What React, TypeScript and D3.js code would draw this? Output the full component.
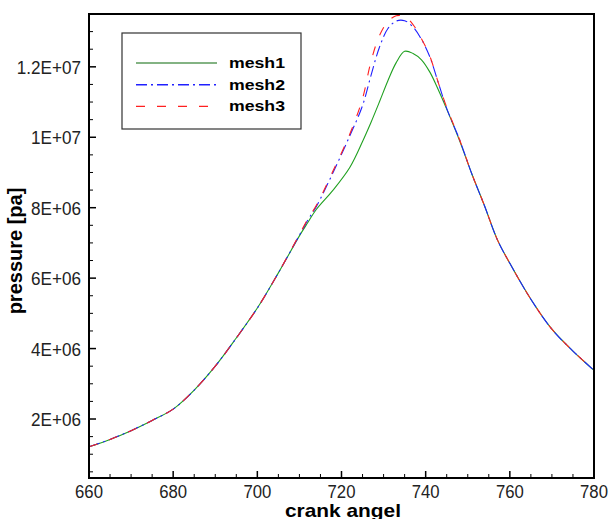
import React from "react";
import * as d3 from "d3";

const angles = [660, 665, 670, 675, 680, 685, 690, 695, 700, 705, 710, 712, 714, 718, 722, 725, 727, 729, 731, 733, 735, 737, 739, 741, 743, 745, 748, 751, 754, 757, 760, 765, 770, 775, 780];
const mesh1 = [1.21, 1.42, 1.67, 1.96, 2.28, 2.82, 3.5, 4.3, 5.15, 6.15, 7.2, 7.58, 7.95, 8.5, 9.15, 9.88, 10.42, 11.0, 11.6, 12.12, 12.44, 12.38, 12.2, 11.85, 11.35, 10.8, 9.92, 8.95, 8.05, 7.1, 6.42, 5.4, 4.55, 3.93, 3.38];
const mesh2 = [1.21, 1.42, 1.67, 1.96, 2.28, 2.82, 3.5, 4.3, 5.15, 6.15, 7.22, 7.65, 8.03, 9.0, 10.05, 10.9, 11.75, 12.55, 13.08, 13.3, 13.31, 13.13, 12.78, 12.28, 11.55, 10.82, 9.95, 8.95, 8.05, 7.1, 6.42, 5.4, 4.55, 3.93, 3.38];
const mesh3 = [1.21, 1.42, 1.67, 1.96, 2.28, 2.82, 3.5, 4.3, 5.15, 6.15, 7.24, 7.68, 8.06, 9.05, 10.1, 11.1, 12.15, 12.88, 13.28, 13.45, 13.43, 13.2, 12.8, 12.3, 11.55, 10.85, 9.95, 8.95, 8.05, 7.1, 6.42, 5.4, 4.55, 3.93, 3.38];
const seriesNames = ["mesh1", "mesh2", "mesh3"];
const xTicks = [660, 680, 700, 720, 740, 760, 780];
const yTicks = [2e6, 4e6, 6e6, 8e6, 1e7, 1.2e7];
const yTickLabels = ["2E+06", "4E+06", "6E+06", "8E+06", "1E+07", "1.2E+07"];
const xTitle = "crank angel";
const yTitle = "pressure [pa]";

const L = 89, R = 594, T = 14, B = 478;

export default function App() {
  const x = d3.scaleLinear().domain([660, 780]).range([L, R]);
  const y = d3.scaleLinear().domain([0.325e6, 13.5e6]).range([B, T]);
  const line = d3
    .line<number>()
    .x((_, i) => x(angles[i]))
    .y((v) => y(v * 1e6))
    .curve(d3.curveCatmullRom.alpha(0.5));

  const styles = [
    { stroke: "#20a020", dash: undefined as string | undefined },
    { stroke: "#2020ff", dash: "11,4,2,4" },
    { stroke: "#ff2020", dash: "9,12" },
  ];
  const data = [mesh1, mesh2, mesh3];

  const xMinor = d3.range(665, 780, 5).filter((v) => v % 20 !== 0);
  const yMinor = d3.range(5e5, 13.5e6, 5e5).filter((v) => v % 2e6 !== 0);

  return (
    <svg width={609} height={519} style={{ position: "absolute", left: 0, top: 0, background: "#fff" }}>
      <defs>
        <clipPath id="plot">
          <rect x={L} y={T} width={R - L} height={B - T} />
        </clipPath>
      </defs>
      <rect x={0} y={0} width={609} height={519} fill="#fff" />
      <g clipPath="url(#plot)">
        {data.map((d, i) => (
          <path
            key={i}
            d={line(d) || ""}
            fill="none"
            stroke={styles[i].stroke}
            strokeWidth={1.1}
            strokeDasharray={styles[i].dash}
          />
        ))}
      </g>
      {xTicks.map((t) => (
        <line key={"xt" + t} x1={x(t)} x2={x(t)} y1={B} y2={B - 7} stroke="#000" strokeWidth={1.5} />
      ))}
      {xMinor.map((t) => (
        <line key={"xm" + t} x1={x(t)} x2={x(t)} y1={B} y2={B - 4} stroke="#000" strokeWidth={1} />
      ))}
      {yTicks.map((t) => (
        <line key={"yt" + t} x1={L} x2={L + 7} y1={y(t)} y2={y(t)} stroke="#000" strokeWidth={1.5} />
      ))}
      {yMinor.map((t) => (
        <line key={"ym" + t} x1={L} x2={L + 4} y1={y(t)} y2={y(t)} stroke="#000" strokeWidth={1} />
      ))}
      <rect x={L} y={T} width={R - L} height={B - T} fill="none" stroke="#000" strokeWidth={2} />
      {xTicks.map((t) => (
        <text
          key={"xl" + t}
          transform={`translate(${x(t)},498) scale(0.88,1)`}
          textAnchor="middle"
          fontFamily="Liberation Sans, Arial, sans-serif"
          fontSize={19}
          fill="#222"
        >
          {t}
        </text>
      ))}
      {yTicks.map((t, i) => (
        <text
          key={"yl" + t}
          transform={`translate(81,${y(t) + 7}) scale(0.9,1)`}
          textAnchor="end"
          fontFamily="Liberation Sans, Arial, sans-serif"
          fontSize={19}
          fill="#222"
        >
          {yTickLabels[i]}
        </text>
      ))}
      <text
        x={343}
        y={517}
        textAnchor="middle"
        fontFamily="Liberation Sans, Arial, sans-serif"
        fontWeight="bold"
        fontSize={19}
        textLength={116}
        lengthAdjust="spacingAndGlyphs"
        fill="#000"
      >
        {xTitle}
      </text>
      <text
        transform="translate(22,251) rotate(-90)"
        textAnchor="middle"
        fontFamily="Liberation Sans, Arial, sans-serif"
        fontWeight="bold"
        fontSize={20}
        fill="#000"
      >
        {yTitle}
      </text>
      <rect x={122} y={33} width={179} height={96} fill="#fff" stroke="#333" strokeWidth={1.2} />
      {seriesNames.map((n, i) => {
        const ly = 63 + i * 21.7;
        return (
          <g key={n}>
            <line x1={136} x2={217} y1={ly} y2={ly} stroke={i === 0 ? "#5a9a5a" : styles[i].stroke} strokeWidth={i === 0 ? 1.6 : 1.4} strokeDasharray={styles[i].dash} />
            <text
              x={229}
              y={ly + 4.8}
              fontFamily="Liberation Sans, Arial, sans-serif"
              fontWeight="bold"
              fontSize={14}
              textLength={56}
              lengthAdjust="spacingAndGlyphs"
              fill="#000"
            >
              {n}
            </text>
          </g>
        );
      })}
    </svg>
  );
}
